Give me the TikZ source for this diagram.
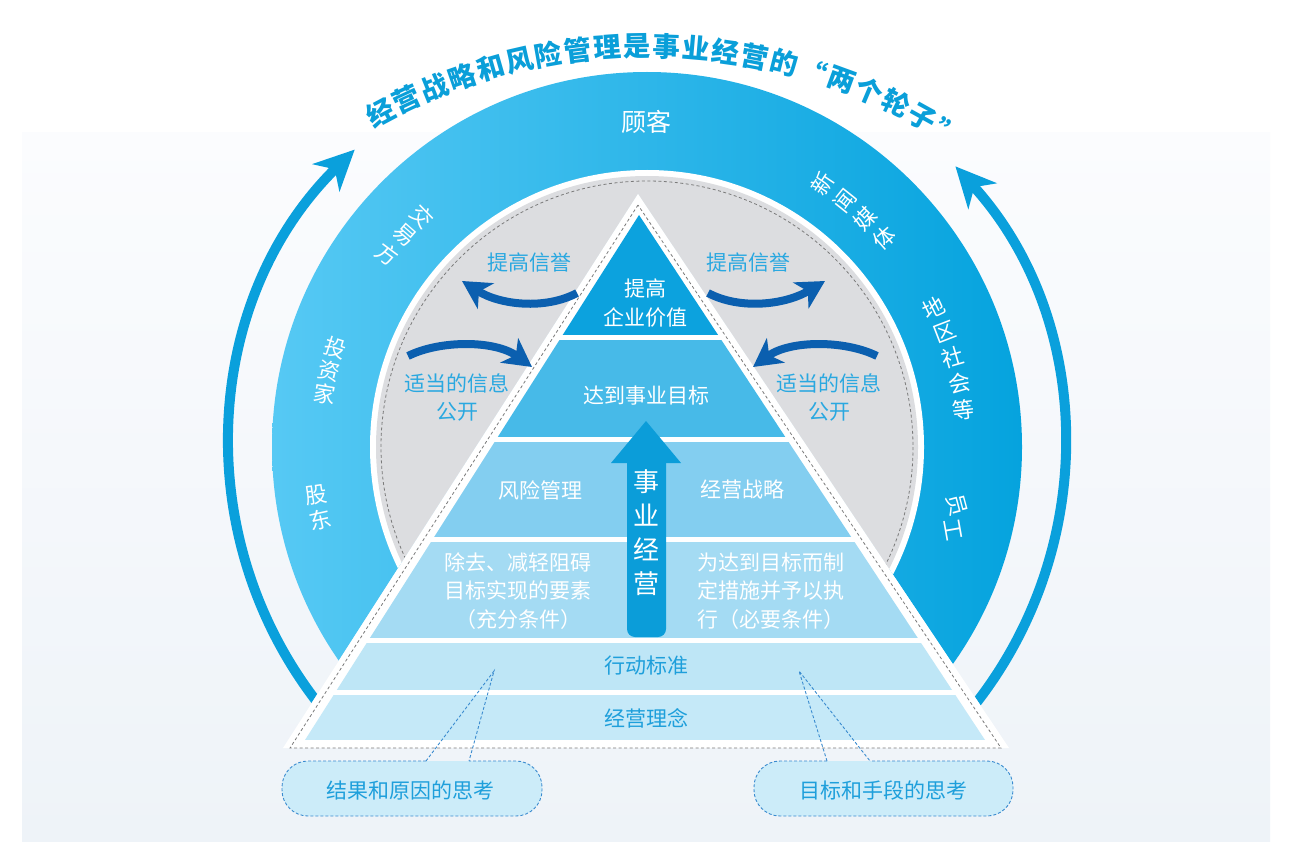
\documentclass[tikz,border=0pt]{standalone}
\usepackage{fontspec}
\setmainfont{Noto Sans CJK SC}
\usetikzlibrary{arrows.meta}
\definecolor{ringL}{HTML}{56C9F4}
\definecolor{ringR}{HTML}{05A3DE}
\definecolor{grayfill}{HTML}{DCDDE0}
\definecolor{dashgray}{HTML}{7A7A7A}
\definecolor{bandA}{HTML}{0CA2DE}
\definecolor{bandB}{HTML}{47BAE8}
\definecolor{bandC}{HTML}{83CEF0}
\definecolor{bandD}{HTML}{A4DBF3}
\definecolor{bandE}{HTML}{BEE6F6}
\definecolor{bandF}{HTML}{C5E9F8}
\definecolor{darkarrow}{HTML}{0B5FAF}
\definecolor{lightblue}{HTML}{2AA8E0}
\definecolor{titleblue}{HTML}{0A9FD9}
\definecolor{bigarrowc}{HTML}{0AA0DC}
\definecolor{upblue}{HTML}{0B9DD9}
\definecolor{calloutfill}{HTML}{CCECF9}
\definecolor{calloutline}{HTML}{3A8BCF}
\definecolor{lowtext}{HTML}{1E9FDB}
\definecolor{bgtop}{HTML}{FBFCFE}
\definecolor{bgbot}{HTML}{EEF3F8}
\tikzset{
  ringtxt/.style={text=white, font=\fontsize{22}{22}\selectfont, inner sep=0pt},
  titletxt/.style={text=titleblue, font=\fontsize{27.5}{27.5}\selectfont\bfseries, inner sep=0pt},
  pyrtxt/.style={text=white, font=\fontsize{21}{28.5}\selectfont, inner sep=0pt},
  lowtxt/.style={text=lowtext, font=\fontsize{21}{28.5}\selectfont, inner sep=0pt},
  graytxt/.style={text=lightblue, font=\fontsize{21}{28}\selectfont, inner sep=0pt, align=center},
  bigarrow/.style={bigarrowc, line width=10pt, -{Stealth[length=40pt,width=38pt,inset=12pt]}},
  curvarrow/.style={darkarrow, line width=8pt, -{Stealth[length=28pt,width=30pt,inset=8pt]}},
  dashline/.style={dashgray, line width=0.8pt, dash pattern=on 3pt off 2.5pt},
  callout/.style={calloutline, line width=0.9pt, dash pattern=on 3pt off 2pt},
}
\begin{document}
\begin{tikzpicture}[x=1pt,y=-1pt]
\useasboundingbox (0,0) rectangle (1303,842);
\fill[white] (0,0) rectangle (1303,842);
\shade[top color=bgtop, bottom color=bgbot] (22,133) rectangle (1270,842);

% ring, gray disc and outer arrows, clipped outside the pyramid wedge
\begin{scope}
  \clip (-10,-10) -- (1313,-10) -- (1313,852) -- (-10,852) -- cycle
        (638,194) -- (185,900) -- (1111,900) -- cycle;
  \shade[left color=ringL, right color=ringR] (647,447) circle[radius=375];
  \fill[white] (647,447) circle[radius=277];
  \fill[grayfill] (647,447) circle[radius=271];
  \draw[dashline] (647,447) circle[radius=266];
  \coordinate (laS) at ({647+417*cos(222)},{447-417*sin(222)});
  \coordinate (raS) at ({647+417*cos(-42)},{447-417*sin(-42)});
  \draw[bigarrow] (laS) arc[start angle=-222, end angle=-134.5, radius=417];
  \draw[bigarrow] (raS) arc[start angle=42, end angle=-42.3, radius=417];
\end{scope}

% pyramid
\fill[white] (638,194) -- (283,748) -- (1009,748) -- cycle;
\draw[dashline] (638,205) -- (290,748) -- (1001,748) -- cycle;
\begin{scope}
  \clip (639,215) -- (305,740) -- (985,740) -- cycle;
  \fill[bandA] (200,200) rectangle (1100,335);
  \fill[bandB] (200,340) rectangle (1100,437);
  \fill[bandC] (200,442) rectangle (1100,537);
  \fill[bandD] (200,542) rectangle (1100,638);
  \fill[bandE] (200,643) rectangle (1100,690);
  \fill[bandF] (200,695) rectangle (1100,740);
\end{scope}

% up arrow
\fill[upblue, rounded corners=8pt] (627,452) rectangle (666,637);
\fill[upblue] (646,421) -- (681,463) -- (611,463) -- cycle;
\node[text=white, font=\fontsize{26}{34}\selectfont, align=center, inner sep=0pt] (biz) at (646,533) {事\\业\\经\\营};

% title along arc
\foreach \ch [count=\i from 0] in {经,营,战,略,和,风,险,管,理,是,事,业,经,营,的,“,两,个,轮,子,”}{
  \pgfmathsetmacro\a{118-3*\i}
  \node[titletxt, rotate=\a-90] (title\i) at ({647+568*cos(\a)},{614-568*sin(\a)}) {\ch};
}

% ring labels
\node[ringtxt, font=\fontsize{25}{25}\selectfont] (guke) at (646,122) {顾客};
\foreach \ch/\a/\r/\rot [count=\i] in {交/134.2/322/-45.8, 易/138.8/322/-41.2, 方/143.4/324/-36.6,
  投/162.4/327/-17.6, 资/166.5/327/-13.5, 家/170.6/327/-9.4,
  股/188.3/334/8.3, 东/192.6/335/12.6,
  新/56.3/316/56.3, 闻/51.3/316/51.3, 媒/46.3/316/46.3, 体/41.3/316/41.3,
  地/25.9/319/25.9, 区/21.1/319/21.1, 社/16.3/319/16.3, 会/11.5/319/11.5, 等/6.7/319/6.7,
  员/-10.6/315/-75, 工/-15.2/317/-80}{
  \node[ringtxt, rotate=\rot] (ring\i) at ({647+\r*cos(\a)},{447-\r*sin(\a)}) {\ch};
}

% gray region labels and arrows
\node[graytxt] (xy1) at (529,263) {提高信誉};
\node[graytxt] (xy2) at (748,263) {提高信誉};
\node[graytxt] (gk1) at (457,397) {适当的信息\\公开};
\node[graytxt] (gk2) at (829,397) {适当的信息\\公开};
\coordinate (a1s) at (577,293); \coordinate (a1e) at (462,281);
\coordinate (a2s) at (408,356); \coordinate (a2e) at (532,367);
\coordinate (a3s) at (708,293); \coordinate (a3e) at (825,281);
\coordinate (a4s) at (877,356); \coordinate (a4e) at (753,367);
\draw[curvarrow] (a1s) .. controls (545,310) and (500,305) .. (a1e);
\draw[curvarrow] (a2s) .. controls (440,340) and (495,340) .. (a2e);
\draw[curvarrow] (a3s) .. controls (740,310) and (785,305) .. (a3e);
\draw[curvarrow] (a4s) .. controls (845,340) and (790,340) .. (a4e);

% pyramid texts
\node[pyrtxt] (p1a) at (645,288) {提高};
\node[pyrtxt] (p1b) at (645,318) {企业价值};
\node[pyrtxt] (p2) at (646,396) {达到事业目标};
\node[pyrtxt] (p3l) at (540,490) {风险管理};
\node[pyrtxt] (p3r) at (742,490) {经营战略};
\node[pyrtxt, align=center] (p4l) at (518,591) {除去、减轻阻碍\\目标实现的要素\\（充分条件）};
\node[pyrtxt, align=left, anchor=west] (p4r) at (697,591) {为达到目标而制\\定措施并予以执\\行（必要条件）};
\node[lowtxt] (p5) at (646,666) {行动标准};
\node[lowtxt] (p6) at (646,718) {经营理念};

% callouts
\fill[calloutfill, rounded corners=26pt] (282,761) rectangle (542,816);
\draw[callout, rounded corners=26pt] (426,761) -- (282,761) -- (282,816) -- (542,816) -- (542,761) -- (469,761);
\coordinate (tipL) at (494,671);
\draw[callout] (426,761) -- (tipL) -- (469,761);
\node[lowtxt] (cL) at (410,790) {结果和原因的思考};
\fill[calloutfill, rounded corners=26pt] (754,761) rectangle (1013,816);
\draw[callout, rounded corners=26pt] (827,761) -- (754,761) -- (754,816) -- (1013,816) -- (1013,761) -- (870,761);
\coordinate (tipR) at (799,671);
\draw[callout] (827,761) -- (tipR) -- (870,761);
\node[lowtxt] (cR) at (883,790) {目标和手段的思考};
\end{tikzpicture}
\end{document}
